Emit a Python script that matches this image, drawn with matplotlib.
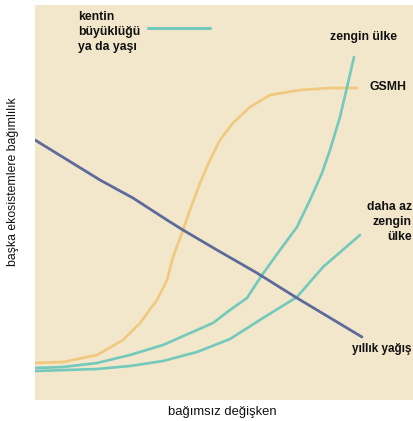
import matplotlib.pyplot as plt

# curves (arbitrary units, x right, y up)
rain_x = [0, 65, 98, 132, 148, 182, 222, 262, 327]
rain_y = [260, 220, 202, 180, 170, 150, 127, 102, 63]

gdp_x = [0, 28, 62, 88, 105, 122, 132, 138, 147, 155, 165, 175, 185, 198, 215, 235, 265, 295, 322]
gdp_y = [37, 38, 45, 60, 77, 100, 120, 143, 167, 190, 217, 240, 260, 277, 293, 305, 310, 312, 312]

rich_x = [0, 28, 62, 95, 128, 162, 178, 195, 212, 227, 245, 262, 275, 287, 295, 305, 313, 319]
rich_y = [32, 33, 37, 45, 55, 70, 77, 90, 102, 125, 150, 173, 200, 227, 250, 283, 317, 343]

poor_x = [0, 62, 95, 128, 162, 195, 228, 262, 288, 310, 325]
poor_y = [29, 31, 34, 39, 48, 61, 82, 103, 133, 152, 165]

legend_x = [113, 175]
legend_y = [372, 372]

bg = '#f2e6cb'
teal = '#72c9bc'
orange = '#f0c97f'
blue = '#5d6b9b'

fig = plt.figure(figsize=(4.14, 4.21), dpi=100)
ax = fig.add_axes([35 / 414, 21 / 421, 379 / 414, 395 / 421])
ax.set_facecolor(bg)
ax.set_xlim(0, 379)
ax.set_ylim(0, 395)
for s in ax.spines.values():
    s.set_visible(False)
ax.set_xticks([])
ax.set_yticks([])

lkw = dict(solid_capstyle='round', solid_joinstyle='round')
ax.plot(gdp_x, gdp_y, color=orange, lw=1.9, **lkw)
ax.plot(rich_x, rich_y, color=teal, lw=1.9, **lkw)
ax.plot(poor_x, poor_y, color=teal, lw=1.9, **lkw)
ax.plot(rain_x, rain_y, color=blue, lw=2.0, **lkw)
ax.plot(legend_x, legend_y, color=teal, lw=2.2, **lkw)

tkw = dict(fontsize=8.8, fontweight='bold', family='Liberation Sans', color='#111111')
ax.text(43, 368, 'kentin\nbüyüklüğü\nya da yaşı', ha='left', va='center', linespacing=1.3, **tkw)
ax.text(295, 363, 'zengin ülke', ha='left', va='center', **tkw)
ax.text(335, 313, 'GSMH', ha='left', va='center', **tkw)
ax.text(377, 178, 'daha az\nzengin\nülke', ha='right', va='center', multialignment='right',
        linespacing=1.3, **tkw)
ax.text(317, 51, 'yıllık yağış', ha='left', va='center', clip_on=False,
        **{**tkw, 'fontsize': 8.4})

fig.text(222 / 414, 1 - 412 / 421, 'bağımsız değişken', ha='center', va='center',
         fontsize=9.4, family='Liberation Sans', color='#111111')
fig.text(13 / 414, 1 - 182 / 421, 'başka ekosistemlere bağımlılık', ha='center', va='center',
         rotation=90, fontsize=8.8, family='Liberation Sans', color='#111111')

fig.savefig('out.png', dpi=100, facecolor='white')
